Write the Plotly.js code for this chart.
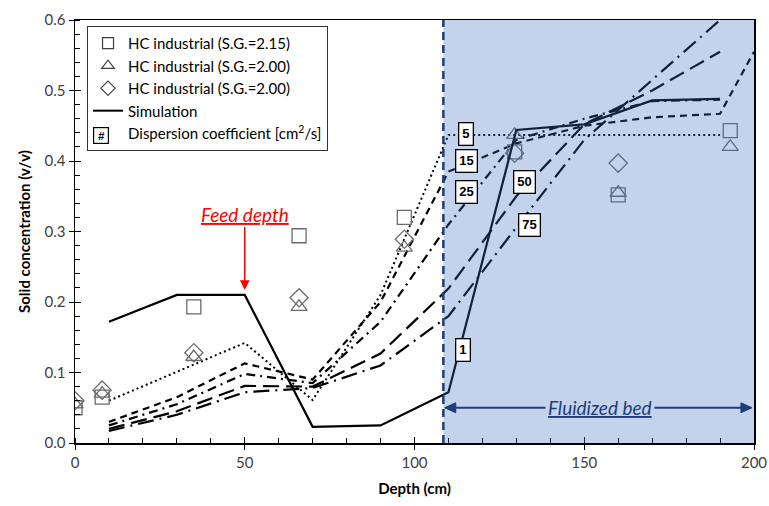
<!DOCTYPE html>
<html><head><meta charset="utf-8">
<script src="https://cdn.plot.ly/plotly-3.0.1.min.js"></script>
<style>html,body{margin:0;padding:0;background:#fff}</style>
</head><body><div id="chart" style="width:769px;height:506px"></div>
<script>
// measured data
const depthMeas = [0, 8, 35, 66, 97, 129.5, 160, 193];
const hcSquare = [0.05, 0.065, 0.193, 0.294, 0.32, 0.413, 0.352, 0.443];
const hcTriangle = [0.055, 0.07, 0.122, 0.193, 0.277, 0.437, 0.355, 0.42];
const depthDiamond = [0, 8, 35, 66, 97, 129.5, 160];
const hcDiamond = [0.06, 0.075, 0.128, 0.206, 0.289, 0.411, 0.397];

// simulations
const simDepth = [10, 30, 50, 70, 90, 110, 130, 150, 170, 190];
const simD1 = [0.172, 0.21, 0.21, 0.023, 0.025, 0.072, 0.444, 0.452, 0.486, 0.488];
const dispDepth = [10, 30, 50, 70, 90, 110, 130, 150, 170, 190, 200];
const simD5  = [0.06, 0.101, 0.142, 0.061, 0.21, 0.437, 0.437, 0.437, 0.437, 0.437, null];
const simD15 = [0.03, 0.065, 0.113, 0.09, 0.2, 0.385, 0.425, 0.45, 0.462, 0.467, 0.555];
const simD25 = [0.025, 0.055, 0.098, 0.085, 0.172, 0.31, 0.43, 0.46, 0.485, 0.487, null];
const simD50 = [0.02, 0.045, 0.081, 0.08, 0.127, 0.219, 0.35, 0.452, 0.50, 0.555, null];
const simD75 = [0.017, 0.04, 0.072, 0.078, 0.11, 0.18, 0.306, 0.43, 0.515, 0.6, null];

const legendNames = ['HC industrial (S.G.=2.15)', 'HC industrial (S.G.=2.00)', 'HC industrial (S.G.=2.00)', 'Simulation', 'Dispersion coefficient [cm<sup>2</sup>/s]'];
const coefLabels = ['1', '5', '15', '25', '50', '75'];
const fluidStart = 108.5;
const fluidEnd = 200;
const arrowLevel = 0.05;

const FONT = 'Lato, "Open Sans", sans-serif';
const mk = '#6b6b6b';
const navy = '#1f3c78';

const traces = [
  {x: dispDepth, y: simD5, mode: 'lines', line: {color: '#000', width: 2, dash: '2px,3px'}, showlegend: false},
  {x: dispDepth, y: simD15, mode: 'lines', line: {color: '#000', width: 2.2, dash: '7px,5px'}, showlegend: false},
  {x: dispDepth, y: simD25, mode: 'lines', line: {color: '#000', width: 2.2, dash: '9px,5px,2px,5px'}, showlegend: false},
  {x: dispDepth, y: simD50, mode: 'lines', line: {color: '#000', width: 2.2, dash: '16px,7px'}, showlegend: false},
  {x: dispDepth, y: simD75, mode: 'lines', line: {color: '#000', width: 2.2, dash: '16px,6px,2px,6px'}, showlegend: false},
  {x: depthMeas, y: hcSquare, mode: 'markers', showlegend: false, marker: {symbol: 'square-open', size: 14, color: mk, line: {width: 1.3}}},
  {x: depthMeas, y: hcTriangle, mode: 'markers', showlegend: false, marker: {symbol: 'triangle-up-open', size: 14, color: mk, line: {width: 1.3}}},
  {x: depthDiamond, y: hcDiamond, mode: 'markers', showlegend: false, marker: {symbol: 'diamond-open', size: 14, color: mk, line: {width: 1.3}}},
  {x: simDepth, y: simD1, mode: 'lines', showlegend: false, line: {color: '#000', width: 2.2}},
  // legend entries
  {x: [null], y: [null], mode: 'markers', name: legendNames[0], marker: {symbol: 'square-open', size: 11, color: '#404040', line: {width: 1.2}}},
  {x: [null], y: [null], mode: 'markers', name: legendNames[1], marker: {symbol: 'triangle-up-open', size: 11, color: '#404040', line: {width: 1.2}}},
  {x: [null], y: [null], mode: 'markers', name: legendNames[2], marker: {symbol: 'diamond-open', size: 11, color: '#404040', line: {width: 1.2}}},
  {x: [null], y: [null], mode: 'lines', name: legendNames[3], line: {color: '#000', width: 2}},
  {x: [null], y: [null], mode: 'markers', name: legendNames[4], marker: {symbol: 'square', size: 16, color: 'rgba(0,0,0,0)', line: {width: 0}}},
  {x: [null], y: [null], xaxis: 'x2', yaxis: 'y2', showlegend: false, hoverinfo: 'skip'}
];

function coefAnn(text, x, y) {
  return {x: x, y: y, xref: 'x', yref: 'y', text: '<b>' + text + '</b>', showarrow: false,
     font: {family: 'Liberation Sans, Arial', size: 13, color: '#000'}, bgcolor: '#fff', bordercolor: '#000', borderwidth: 1.3, borderpad: 3};
}

const annotations = [
  coefAnn(coefLabels[1], 115.2, 0.438),
  coefAnn(coefLabels[2], 115.2, 0.400),
  coefAnn(coefLabels[3], 115.2, 0.356),
  coefAnn(coefLabels[4], 132.3, 0.370),
  coefAnn(coefLabels[5], 134.0, 0.309),
  coefAnn(coefLabels[0], 114.3, 0.132),
  {x: 50, y: 0.217, xref: 'x', yref: 'y', text: '<i><u>Feed depth</u></i>', showarrow: true, ax: 0, ay: -76,
   arrowcolor: '#ff0000', arrowwidth: 1.5, arrowhead: 2, arrowsize: 1.3, font: {family: FONT, size: 19, color: '#ff0000'}},
  {x: 154.5, y: arrowLevel, xref: 'x', yref: 'y', text: '<i><u>Fluidized bed</u></i>', showarrow: false,
   bgcolor: '#c3d3ec', borderpad: 2, font: {family: FONT, size: 19, color: navy}},
  // legend symbol for dispersion coefficient labels: "#" in a box
  {x: 0.0368, y: 0.7305, xref: 'paper', yref: 'paper', xshift: -7, yshift: 7, text: '<b>#</b>', showarrow: false, width: 12, height: 13,
   bgcolor: '#fff', bordercolor: '#000', borderwidth: 1.2, borderpad: 1,
   font: {family: 'Liberation Sans, Arial', size: 11, color: '#000'}}
];

// arrowheads sized in pixels converted to data units
const pxX = 200 / 679, pxY = 0.6 / 423;
const hl = 11 * pxX, hw = 5 * pxY;
const headL = `M ${fluidStart + 0.4} ${arrowLevel} L ${fluidStart + 0.4 + hl} ${arrowLevel + hw} L ${fluidStart + 0.4 + hl} ${arrowLevel - hw} Z`;
const headR = `M ${fluidEnd - 0.6} ${arrowLevel} L ${fluidEnd - 0.6 - hl} ${arrowLevel + hw} L ${fluidEnd - 0.6 - hl} ${arrowLevel - hw} Z`;

const layout = {
  width: 769, height: 506,
  margin: {l: 75, r: 15, t: 20, b: 63},
  paper_bgcolor: '#fff', plot_bgcolor: '#fff',
  font: {family: FONT, size: 15, color: '#404040'},
  showlegend: true,
  legend: {x: 0.0177, y: 0.986, xanchor: 'left', yanchor: 'top', bgcolor: '#fff', bordercolor: '#333', borderwidth: 1,
           font: {family: FONT, size: 15, color: '#000'}, tracegroupgap: 0, itemwidth: 30},
  xaxis: {range: [0, 200], dtick: 50, ticks: 'outside', ticklen: 5, tickcolor: '#000', showgrid: false, zeroline: false,
          showline: true, linecolor: '#000', linewidth: 1.5, mirror: true,
          minor: {dtick: 10, ticks: 'inside', ticklen: 5, tickcolor: '#000'},
          title: {text: '<b>Depth (cm)</b>', font: {family: FONT, size: 15, color: '#000'}, standoff: 14}},
  yaxis: {range: [0, 0.6], dtick: 0.1, tickformat: '.1f', ticks: 'outside', ticklen: 5, tickcolor: '#000', showgrid: false, zeroline: false,
          showline: true, linecolor: '#000', linewidth: 1.5, mirror: true,
          minor: {dtick: 0.02, ticks: 'inside', ticklen: 5, tickcolor: '#000'},
          title: {text: '<b>Solid concentration (v/v)</b>', font: {family: FONT, size: 15, color: '#000'}, standoff: 10}},
  xaxis2: {overlaying: 'x', matches: 'x', range: [0, 200], dtick: 50, ticks: 'inside', ticklen: 6, tickcolor: '#000', showticklabels: false, showgrid: false, zeroline: false},
  yaxis2: {overlaying: 'y', matches: 'y', range: [0, 0.6], dtick: 0.1, ticks: 'inside', ticklen: 6, tickcolor: '#000', showticklabels: false, showgrid: false, zeroline: false},
  shapes: [
    {type: 'rect', xref: 'x', yref: 'y', x0: fluidStart, x1: fluidEnd, y0: 0, y1: 0.6, layer: 'above', line: {width: 0}, fillcolor: 'rgba(55,108,192,0.30)'},
    {type: 'line', xref: 'x', yref: 'y', x0: fluidStart, x1: fluidStart, y0: 0, y1: 0.6, layer: 'above', line: {color: navy, width: 2.5, dash: '8px,5px'}},
    {type: 'line', xref: 'x', yref: 'y', x0: fluidStart + 2, x1: fluidEnd - 2, y0: arrowLevel, y1: arrowLevel, layer: 'above', line: {color: navy, width: 2}},
    {type: 'path', xref: 'x', yref: 'y', path: headL, layer: 'above', fillcolor: navy, line: {color: navy, width: 1}},
    {type: 'path', xref: 'x', yref: 'y', path: headR, layer: 'above', fillcolor: navy, line: {color: navy, width: 1}}
  ],
  annotations: annotations
};

Plotly.newPlot('chart', traces, layout, {displayModeBar: false, staticPlot: true});
</script></body></html>
